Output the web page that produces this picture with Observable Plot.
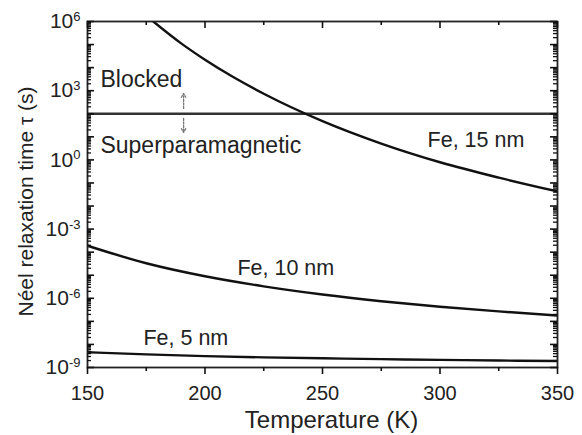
<!DOCTYPE html>
<html><head><meta charset="utf-8">
<script src="https://cdn.jsdelivr.net/npm/d3@7"></script>
<script src="https://cdn.jsdelivr.net/npm/@observablehq/plot@0.6"></script>
<style>
html,body{margin:0;padding:0;background:#fff;}
#chart svg{display:block;}
</style></head><body><div id="chart"></div>
<script>
// Data
const temperature = [150, 175, 200, 225, 250, 275, 300, 325, 350];
const temperature15 = [178, 190, 200, 212, 225, 250, 275, 300, 325, 350];
const tauFe15 = [1.0e6, 1.1e5, 2.2e4, 3.9e3, 7.4e2, 48, 5.1, 0.79, 0.17, 0.043];
const tauFe10 = [1.9e-4, 3.3e-5, 9.0e-6, 3.3e-6, 1.46e-6, 7.5e-7, 4.3e-7, 2.7e-7, 1.8e-7];
const tauFe5 = [4.6e-9, 3.7e-9, 3.1e-9, 2.75e-9, 2.5e-9, 2.3e-9, 2.14e-9, 2.0e-9, 1.92e-9];
const tauMeasurement = 100;

const curveLabels = ["Fe, 15 nm", "Fe, 10 nm", "Fe, 5 nm"];
const curveLabelT = [294.7, 213.8, 173.8];
const curveLabelTau = [3.5, 9.8e-6, 9e-9];
const regionLabels = ["Blocked", "Superparamagnetic"];
const regionLabelT = [155.5, 155.5];
const regionLabelTau = [1.5e3, 1.9];
const arrowT = [190.9, 190.9];
const arrowFrom = [170, 63];
const arrowTo = [760, 15.5];

const xTicks = [150, 200, 250, 300, 350];
const xMinorTicks = [175, 225, 275, 325];
const yLabelExponents = [-9, -6, -3, 0, 3, 6];
const xTitle = "Temperature (K)";
const yTitle = "Néel relaxation time τ (s)";

// Build tables
const s15 = temperature15.map((t, i) => ({t, tau: tauFe15[i]}));
const s10 = temperature.map((t, i) => ({t, tau: tauFe10[i]}));
const s5 = temperature.map((t, i) => ({t, tau: tauFe5[i]}));
const cLabels = curveLabels.map((s, i) => ({s, t: curveLabelT[i], tau: curveLabelTau[i]}));
const rLabels = regionLabels.map((s, i) => ({s, t: regionLabelT[i], tau: regionLabelTau[i]}));
const arrows = arrowT.map((t, i) => ({t, y1: arrowFrom[i], y2: arrowTo[i]}));

const yLabeled = yLabelExponents.map(e => Math.pow(10, e));
const yAllDecades = d3.range(-9, 7).map(e => Math.pow(10, e));
const yMinor = [];
for (let e = -9; e < 6; e++) for (let m = 2; m <= 9; m++) yMinor.push(m * Math.pow(10, e));

// layout
const W = 582, H = 435, mL = 87, mR = 25, mT = 21, mB = 68;
const frameW = W - mL - mR, frameH = H - mT - mB;
const major = 7, minor = 4;
const tickStyle = {stroke: "#111", strokeWidth: 1.6};
const minorStyle = {stroke: "#111", strokeWidth: 1.3};

const plot = Plot.plot({
  width: W, height: H,
  marginLeft: mL, marginRight: mR, marginTop: mT, marginBottom: mB,
  style: {fontFamily: "'Liberation Sans', Arial, sans-serif", color: "#222", background: "#fff"},
  x: {domain: [150, 350]},
  y: {type: "log", domain: [1e-9, 1e6]},
  marks: [
    Plot.ruleY([tauMeasurement], {stroke: "#333", strokeWidth: 2.4}),
    Plot.line(s15, {x: "t", y: "tau", curve: "monotone-x", stroke: "#111", strokeWidth: 2.4, clip: true}),
    Plot.line(s10, {x: "t", y: "tau", curve: "monotone-x", stroke: "#111", strokeWidth: 2.4, clip: true}),
    Plot.line(s5, {x: "t", y: "tau", curve: "monotone-x", stroke: "#111", strokeWidth: 2.4, clip: true}),
    Plot.arrow(arrows, {x: "t", y1: "y1", y2: "y2", stroke: "#777", strokeWidth: 1.3, strokeDasharray: "2,1.5", headLength: 5}),
    Plot.text(cLabels, {x: "t", y: "tau", text: "s", textAnchor: "start", lineAnchor: "bottom", fontSize: 21.5, fill: "#222"}),
    Plot.text(rLabels, {x: "t", y: "tau", text: "s", textAnchor: "start", lineAnchor: "bottom", fontSize: 23, fill: "#222"}),
    Plot.frame({stroke: "#222", strokeWidth: 1.8}),
    // x ticks: bottom outward, top inward
    Plot.tickX(xTicks, {x: d => d, insetTop: frameH - major, dy: major, ...tickStyle}),
    Plot.tickX(xMinorTicks, {x: d => d, insetTop: frameH - minor, dy: minor, ...tickStyle}),
    Plot.tickX(xTicks, {x: d => d, insetBottom: frameH - major, ...tickStyle}),
    Plot.tickX(xMinorTicks, {x: d => d, insetBottom: frameH - minor, ...tickStyle}),
    // y ticks: inward on left and right
    Plot.tickY(yAllDecades, {y: d => d, insetRight: frameW - major, ...tickStyle}),
    Plot.tickY(yMinor, {y: d => d, insetRight: frameW - minor, ...minorStyle}),
    Plot.tickY(yAllDecades, {y: d => d, insetLeft: frameW - major, ...tickStyle}),
    Plot.tickY(yMinor, {y: d => d, insetLeft: frameW - minor, ...minorStyle}),
    // tick labels
    Plot.axisX(xTicks, {anchor: "bottom", tickSize: 6, tickPadding: 12, fontSize: 20, label: null, stroke: "none"}),
    Plot.axisY(yLabeled, {anchor: "left", tickSize: 0, tickPadding: 7, fontSize: 21, label: null,
      tickFormat: d => "10^" + Math.round(Math.log10(d))}),
    Plot.text([xTitle], {text: d => d, frameAnchor: "bottom", dx: 9, dy: 60, lineAnchor: "bottom", fontSize: 24, fill: "#222"}),
    Plot.text([yTitle], {text: d => d, frameAnchor: "left", textAnchor: "middle", rotate: -90, dx: -55, dy: 7, lineAnchor: "bottom", fontSize: 21, fill: "#222"})
  ]
});

// superscript exponents on the y tick labels
plot.querySelectorAll("text").forEach(el => {
  const m = /^10\^(-?\d+)$/.exec(el.textContent);
  if (!m) return;
  el.textContent = "10";
  const ts = document.createElementNS("http://www.w3.org/2000/svg", "tspan");
  ts.setAttribute("dy", "-0.55em");
  ts.setAttribute("font-size", "0.62em");
  ts.textContent = m[1];
  el.appendChild(ts);
});

document.getElementById("chart").appendChild(plot);
</script>
</body></html>
